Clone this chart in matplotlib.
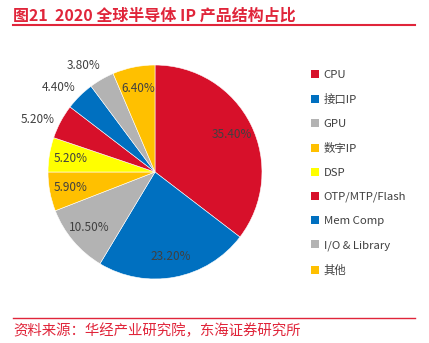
import matplotlib
matplotlib.use("Agg")
import matplotlib.pyplot as plt
import numpy as np
from matplotlib.patches import Patch
from matplotlib.lines import Line2D

plt.rcParams["font.family"] = ["Noto Sans CJK SC", "DejaVu Sans"]

LABELS = ["CPU", "接口IP", "GPU", "数字IP", "DSP", "OTP/MTP/Flash", "Mem Comp", "I/O & Library", "其他"]
SHARE = [35.4, 23.2, 10.5, 5.9, 5.2, 5.2, 4.4, 3.8, 6.4]
COLORS = ["#D7102A", "#0070C0", "#B3B3B3", "#FFC000", "#FFFF00", "#D7102A", "#0070C0", "#B3B3B3", "#FFC000"]
OUTSIDE = {"OTP/MTP/Flash", "Mem Comp", "I/O & Library"}

RED = "#E0253A"
TXT = "#404040"

fig = plt.figure(figsize=(4.29, 3.43), dpi=100)

# header / footer
fig.text(0.030, 0.955, "图21  2020 全球半导体 IP 产品结构占比", color=RED, fontsize=11.5,
         fontweight="bold", ha="left", va="center")
fig.add_artist(Line2D([0.030, 0.968], [0.926, 0.926], color=RED, lw=1.5))
fig.add_artist(Line2D([0.030, 0.968], [0.073, 0.073], color=RED, lw=1.0))
fig.text(0.030, 0.035, "资料来源：华经产业研究院，东海证券研究所", color=RED, fontsize=10.4,
         ha="left", va="center")

# pie
ax = fig.add_axes([0.1119, 0.1866, 0.4988, 0.6239])
wedges, _ = ax.pie(SHARE, colors=COLORS, startangle=90, counterclock=False, radius=1.0,
                   wedgeprops=dict(edgecolor="white", linewidth=0.4))
ax.set_xlim(-1, 1); ax.set_ylim(-1, 1)
for w, lab, v in zip(wedges, LABELS, SHARE):
    mid = (w.theta1 + w.theta2) / 2
    if lab in OUTSIDE:
        r, ang = 1.2, np.deg2rad(mid + 4)
    else:
        r, ang = 0.8, np.deg2rad(mid)
    ax.text(r * np.cos(ang), r * np.sin(ang), f"{v:.2f}%", ha="center", va="center",
            fontsize=8.5, color=TXT, clip_on=False)

handles = [Patch(facecolor=c, edgecolor="none", label=l) for c, l in zip(COLORS, LABELS)]
leg = fig.legend(handles=handles, loc="upper left", bbox_to_anchor=(0.715, 0.810), frameon=False,
                 fontsize=8.2, handlelength=0.7, handleheight=0.7, handletextpad=0.4,
                 labelspacing=1.23, borderaxespad=0)
for t in leg.get_texts():
    t.set_color(TXT)

fig.savefig("out.png", dpi=100)
